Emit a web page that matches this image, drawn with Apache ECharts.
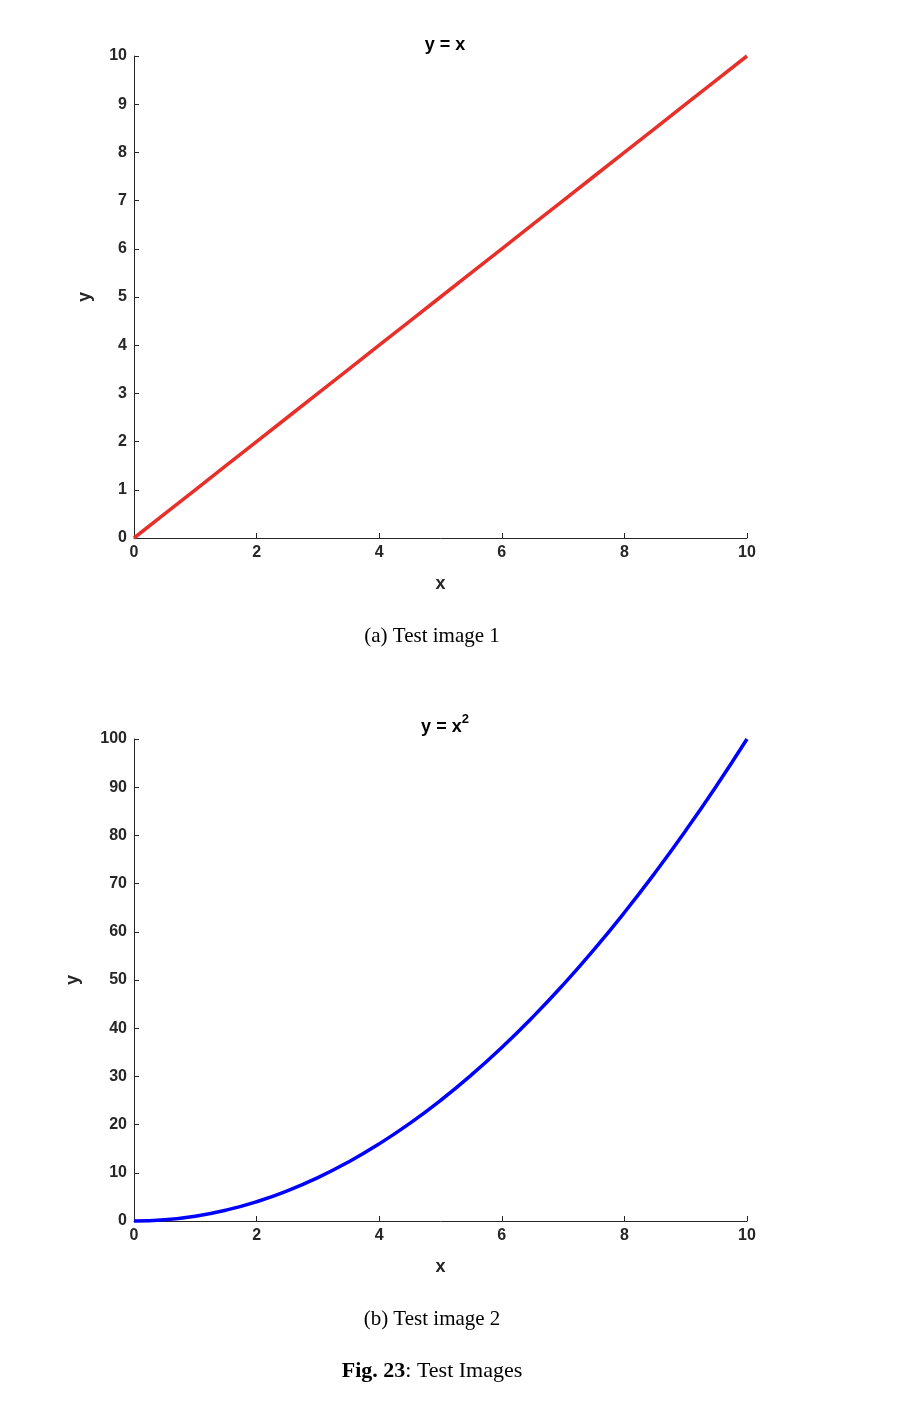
<!DOCTYPE html>
<html><head><meta charset="utf-8">
<script src="https://cdn.jsdelivr.net/npm/echarts@6/dist/echarts.min.js"></script>
<style>html,body{margin:0;padding:0;background:#fff}#c{width:908px;height:1416px}</style>
</head><body><div id="c"></div>
<script>
const xs = [0,0.5,1,1.5,2,2.5,3,3.5,4,4.5,5,5.5,6,6.5,7,7.5,8,8.5,9,9.5,10];
const linY = [0,0.5,1,1.5,2,2.5,3,3.5,4,4.5,5,5.5,6,6.5,7,7.5,8,8.5,9,9.5,10];
const quadY = [0,0.25,1,2.25,4,6.25,9,12.25,16,20.25,25,30.25,36,42.25,49,56.25,64,72.25,81,90.25,100];
const xTicks = [0,2,4,6,8,10];

const chart = echarts.init(document.getElementById('c'));
const axTxt = {color:'#262626', fontFamily:'Liberation Sans, Arial', fontWeight:'bold', fontSize:16};
function xAx(i){return {type:'value',gridIndex:i,min:0,max:10,interval:2,name:'x',nameLocation:'middle',nameGap:37,
  nameTextStyle:Object.assign({},axTxt,{fontSize:18}),
  axisLine:{lineStyle:{color:'#262626',width:1}},axisTick:{inside:true,length:5,lineStyle:{color:'#262626'}},
  axisLabel:Object.assign({margin:7},axTxt),splitLine:{show:false}};}
function yAx(i,max,int){return {type:'value',gridIndex:i,min:0,max:max,interval:int,name:'y',nameLocation:'middle',nameGap:i?52:40,
  nameTextStyle:Object.assign({},axTxt,{fontSize:18}),
  axisLine:{show:true,lineStyle:{color:'#262626',width:1}},axisTick:{show:true,inside:true,length:5,lineStyle:{color:'#262626'}},
  axisLabel:Object.assign({margin:7},axTxt),splitLine:{show:false}};}
const serif = 'Liberation Serif, DejaVu Serif';
chart.setOption({
  animation:false,
  grid:[{left:134,top:56,width:613,height:482},{left:134,top:739,width:613,height:482}],
  xAxis:[xAx(0),xAx(1)],
  yAxis:[yAx(0,10,1),yAx(1,100,10)],
  title:[
    {text:'y = x',left:440,top:31,textAlign:'center',textStyle:Object.assign({},axTxt,{fontSize:18,color:'#000'})},
    {text:'{a|y = x}{s|2}',left:440,top:708,textAlign:'center',textStyle:{rich:{a:Object.assign({},axTxt,{fontSize:18,color:'#000',verticalAlign:'bottom'}),s:Object.assign({},axTxt,{fontSize:13,color:'#000',verticalAlign:'top',padding:[0,0,10,0]})}}},
    {text:'(a) Test image 1',left:427,top:621,textAlign:'center',textStyle:{fontFamily:serif,fontSize:21,fontWeight:'normal',color:'#000'}},
    {text:'(b) Test image 2',left:427,top:1304,textAlign:'center',textStyle:{fontFamily:serif,fontSize:21,fontWeight:'normal',color:'#000'}},
    {text:'{b|Fig. 23}{n|: Test Images}',left:427,top:1355,textAlign:'center',textStyle:{fontWeight:'normal',rich:{b:{fontFamily:serif,fontWeight:'bold',fontSize:22,color:'#000'},n:{fontFamily:serif,fontWeight:'normal',fontSize:22,color:'#000'}}}}
  ],
  series:[
    {type:'line',xAxisIndex:0,yAxisIndex:0,data:xs.map((x,i)=>[x,linY[i]]),showSymbol:false,lineStyle:{color:'#e8302a',width:3.5},clip:false},
    {type:'line',xAxisIndex:1,yAxisIndex:1,data:xs.map((x,i)=>[x,quadY[i]]),smooth:true,showSymbol:false,lineStyle:{color:'#0000ff',width:3.5},clip:false}
  ]
});
</script></body></html>
